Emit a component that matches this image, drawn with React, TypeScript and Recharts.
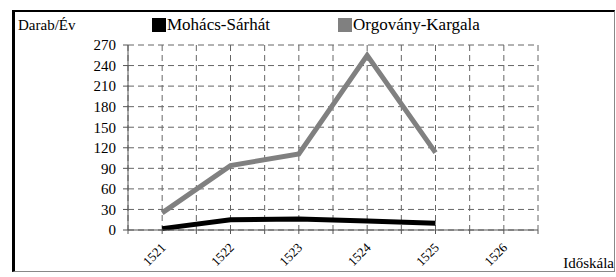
import React from 'react';
import { LineChart, Line, XAxis, YAxis, CartesianGrid } from 'recharts';

const years = ['1521', '1522', '1523', '1524', '1525', '1526'];
const mohacs = [2, 15, 16, 13, 10, null];
const orgovany = [25, 94, 111, 255, 113, null];
const yTicks = [0, 30, 60, 90, 120, 150, 180, 210, 240, 270];

const series = [
    { key: 'mohacs', name: 'Mohács-Sárhát', color: '#000000' },
    { key: 'orgovany', name: 'Orgovány-Kargala', color: '#808080' },
];

// each year sits in the middle of its band, so gridlines fall on band edges and centres
const data = years.map((year, i) => ({ x: i * 2 + 1, year, mohacs: mohacs[i], orgovany: orgovany[i] }));
const xTicks = Array.from({ length: years.length * 2 + 1 }, (_, i) => i);

const font = 'Liberation Serif, Tinos, DejaVu Serif, serif';

const YearTick = (props: any) => {
    const { x, y, payload } = props;
    const v = payload.value;
    if (v % 2 === 0) return null;
    const label = years[(v - 1) / 2];
    const tx = x - 2;
    const ty = y + 6;
    return (
        <text x={tx} y={ty} transform={`rotate(-45, ${tx}, ${ty})`} textAnchor="end" dy={9}
            fontSize={13} fontFamily={font} fill="#000">
            {label}
        </text>
    );
};

export default function App() {
    return (
        <div style={{
            position: 'absolute', left: 12, top: 10, width: 603, height: 262, boxSizing: 'border-box',
            borderTop: '2px solid #000', borderLeft: '3px solid #000',
            borderRight: '1px solid #888', borderBottom: '1px solid #888', background: '#fff',
            fontFamily: font,
        }}>
            <div style={{ position: 'absolute', left: 3, top: 5, fontSize: 15 }}>Darab/Év</div>
            {series.map((s, i) => (
                <div key={s.key} style={{
                    position: 'absolute', left: i === 0 ? 137 : 323, top: 2, height: 22,
                    display: 'flex', alignItems: 'center', fontSize: 17, whiteSpace: 'nowrap',
                }}>
                    <span style={{ display: 'inline-block', width: 14, height: 14, background: s.color, marginRight: 1 }} />
                    <span>{s.name}</span>
                </div>
            ))}
            <div style={{ position: 'absolute', right: 0, bottom: -1, fontSize: 15 }}>Időskála</div>
            <LineChart width={599} height={259} data={data} margin={{ top: 33, right: 76, bottom: 0, left: 0 }}>
                <CartesianGrid stroke="#666" strokeDasharray="6 4" />
                <XAxis dataKey="x" type="number" domain={[0, years.length * 2]} ticks={xTicks} interval={0}
                    height={41} tick={<YearTick />} tickSize={4} stroke="#555" />
                <YAxis domain={[0, 270]} ticks={yTicks} interval={0} width={113} tickSize={5} tickMargin={7}
                    stroke="#555" tick={{ fill: '#000', fontSize: 15, fontFamily: font }} />
                {series.map((s) => (
                    <Line key={s.key} type="linear" dataKey={s.key} name={s.name} stroke={s.color}
                        strokeWidth={5} dot={false} isAnimationActive={false} />
                ))}
            </LineChart>
        </div>
    );
}
